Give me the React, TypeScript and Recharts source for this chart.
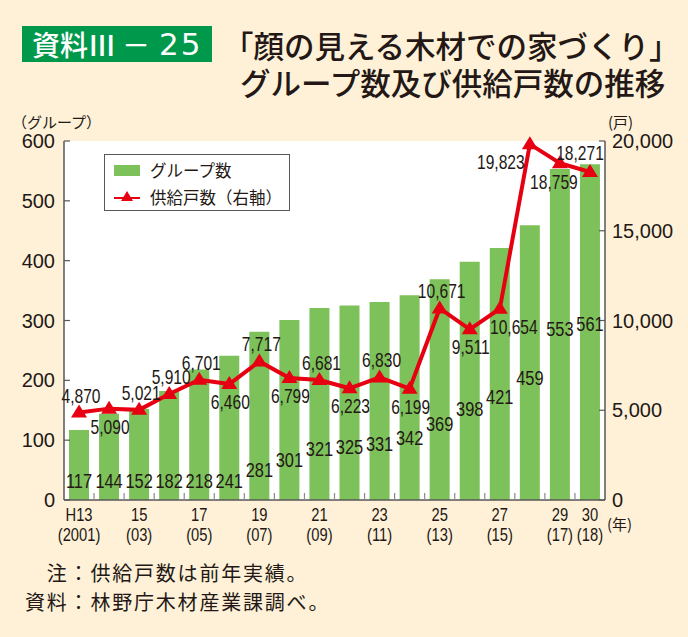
import { ComposedChart, Bar, Line, XAxis, YAxis, CartesianGrid, LabelList } from "recharts";

// H13 (2001) .. H30 (2018)
const YEARS = ["H13", "14", "15", "16", "17", "18", "19", "20", "21", "22", "23", "24", "25", "26", "27", "28", "29", "30"];
const WESTERN = ["2001", "02", "03", "04", "05", "06", "07", "08", "09", "10", "11", "12", "13", "14", "15", "16", "17", "18"];
const SHOWN_TICKS = ["H13", "15", "17", "19", "21", "23", "25", "27", "29", "30"];

const GROUPS = [117, 144, 152, 182, 218, 241, 281, 301, 321, 325, 331, 342, 369, 398, 421, 459, 553, 561];
const HOUSES = [4870, 5090, 5021, 5910, 6701, 6460, 7717, 6799, 6681, 6223, 6830, 6199, 10671, 9511, 10654, 19823, 18759, 18271];

const LEFT_TICKS = [0, 100, 200, 300, 400, 500, 600];
const RIGHT_TICKS = [0, 5000, 10000, 15000, 20000];

// where each line label sits relative to its point
const LINE_LABEL_SIDE = ["up", "down", "up", "up", "up", "down", "up", "down", "up", "down", "up", "down", "up", "down", "downRight", "left", "downLeft", "upLeft"];
const SIDE_OFFSET: Record<string, [number, number]> = {
  up: [2, -17],
  down: [1, 18],
  downRight: [14, 18],
  left: [-29, 18],
  downLeft: [-6, 19],
  upLeft: [-10, -19],
};

const data = YEARS.map((y, i) => ({ year: y, west: WESTERN[i], groups: GROUPS[i], houses: HOUSES[i] }));

const BG = "#fef1d8";
const INK = "#231815";
const AXIS = "#595757";
const GREEN = "#7dc15a";
const RED = "#e60012";
const JP = "'Noto Sans CJK JP', 'Noto Sans', sans-serif";
const NUM = "'Liberation Sans', Arial, sans-serif";

const W = 688;
const H = 637;
const PLOT_L = 64;
const PLOT_R = 605;
const BAND = (PLOT_R - PLOT_L) / YEARS.length;

const fmt = (n: number) => n.toLocaleString("en-US");

function LeftTick({ x, y, payload }: any) {
  return (
    <g>
      <line x1={PLOT_L} x2={PLOT_L + 6} y1={y} y2={y} stroke={AXIS} strokeWidth={1.2} />
      <text x={x} y={y + 7} textAnchor="end" fontSize={20} fill={INK} fontFamily={NUM}>
        {payload.value}
      </text>
    </g>
  );
}

function RightTick({ x, y, payload }: any) {
  return (
    <g>
      <line x1={PLOT_R - 6} x2={PLOT_R} y1={y} y2={y} stroke={AXIS} strokeWidth={1.2} />
      <text x={x} y={y + 7} textAnchor="start" fontSize={20} fill={INK} fontFamily={NUM}>
        {fmt(payload.value)}
      </text>
    </g>
  );
}

function BottomTick({ x, y, payload, index }: any) {
  const show = SHOWN_TICKS.includes(payload.value);
  const left = x - BAND / 2;
  return (
    <g>
      {index > 0 && <line x1={left} x2={left} y1={y - 7} y2={y} stroke="#8a8a8a" strokeWidth={1.2} />}
      {show && (
        <g transform={`translate(${x},${y})`}>
          <text transform="scale(0.82,1)" y={21} textAnchor="middle" fontSize={18} fill={INK} fontFamily={NUM}>
            {payload.value}
          </text>
          <text transform="scale(0.82,1)" y={41} textAnchor="middle" fontSize={18} fill={INK} fontFamily={NUM}>
            ({WESTERN[index]})
          </text>
        </g>
      )}
    </g>
  );
}

function BarValue({ x, y, width, height, value }: any) {
  const d = 20 + Math.max(0, value - 260) * 0.52;
  const cx = x + width / 2;
  const by = y + height - d + 8;
  return (
    <text transform={`translate(${cx},${by}) scale(0.78,1)`} textAnchor="middle" fontSize={21} fill={INK} fontFamily={NUM}>
      {value}
    </text>
  );
}

function LineValue({ x, y, value, index }: any) {
  const [dx, dy] = SIDE_OFFSET[LINE_LABEL_SIDE[index]];
  return (
    <text transform={`translate(${x + dx},${y + dy + 7}) scale(0.78,1)`} textAnchor="middle" fontSize={20} fill={INK} fontFamily={NUM}>
      {fmt(value)}
    </text>
  );
}

function Triangle({ cx, cy }: any) {
  if (cx == null || cy == null) return null;
  return <polygon points={`${cx},${cy - 8} ${cx + 8},${cy + 5} ${cx - 8},${cy + 5}`} fill={RED} />;
}

function LegendBox() {
  return (
    <div
      style={{
        position: "absolute",
        left: 104,
        top: 154,
        width: 184,
        height: 55,
        background: "#fff",
        border: `1px solid ${AXIS}`,
        fontFamily: JP,
        fontSize: 16.5,
        color: INK,
        whiteSpace: "nowrap",
      }}
    >
      <div style={{ position: "absolute", left: 9, top: 10, width: 26, height: 11, background: GREEN }} />
      <div style={{ position: "absolute", left: 45, top: 4, lineHeight: "22px" }}>グループ数</div>
      <svg style={{ position: "absolute", left: 9, top: 34 }} width={28} height={16}>
        <line x1={0} x2={26} y1={9} y2={9} stroke={RED} strokeWidth={2} />
        <polygon points="13,2 19,12 7,12" fill={RED} />
      </svg>
      <div style={{ position: "absolute", left: 45, top: 31, lineHeight: "22px" }}>供給戸数（右軸）</div>
    </div>
  );
}

const titleLine = {
  position: "absolute" as const,
  fontFamily: JP,
  fontSize: 30.5,
  fontWeight: 500,
  color: INK,
  lineHeight: "32px",
  whiteSpace: "nowrap" as const,
};

const noteLine = {
  position: "absolute" as const,
  left: 25,
  fontFamily: JP,
  fontSize: 20,
  letterSpacing: 1.8,
  color: INK,
  lineHeight: "24px",
  whiteSpace: "nowrap" as const,
};

export default function App() {
  return (
    <div style={{ position: "absolute", left: 0, top: 0, width: W, height: H, background: BG, overflow: "hidden" }}>
      {/* title */}
      <div
        style={{
          position: "absolute",
          left: 22,
          top: 26,
          width: 190,
          height: 36,
          background: "#00984a",
          color: "#fff",
          fontFamily: JP,
          fontSize: 28,
          lineHeight: "36px",
          fontWeight: 500,
          whiteSpace: "nowrap",
        }}
      >
        <span style={{ position: "absolute", left: 10 }}>資料Ⅲ</span>
        <span style={{ position: "absolute", left: 100 }}>－</span>
        <span style={{ position: "absolute", left: 137, fontFamily: "'DejaVu Sans', sans-serif", fontSize: 31, letterSpacing: 2 }}>
          25
        </span>
      </div>
      <div style={{ ...titleLine, left: 223, top: 29 }}>「顔の見える木材での家づくり」</div>
      <div style={{ ...titleLine, left: 240, top: 66 }}>グループ数及び供給戸数の推移</div>

      {/* axis units */}
      <div style={{ position: "absolute", left: 12, top: 111, fontFamily: JP, fontSize: 15, color: INK, whiteSpace: "nowrap" }}>
        （グループ）
      </div>
      <div style={{ position: "absolute", left: 608, top: 111, fontFamily: JP, fontSize: 15, color: INK, whiteSpace: "nowrap" }}>
        (戸)
      </div>
      <div style={{ position: "absolute", left: 607, top: 513, fontFamily: JP, fontSize: 15, color: INK, whiteSpace: "nowrap" }}>
        (年)
      </div>

      <div style={{ position: "absolute", left: 0, top: 0 }}>
        <ComposedChart width={W} height={H} data={data} margin={{ top: 141, right: 0, bottom: 77, left: 0 }} barSize={20}>
          <CartesianGrid fill="#fff" stroke="none" horizontal={false} vertical={false} />
          <XAxis
            dataKey="year"
            interval={0}
            height={60}
            tickSize={0}
            tickMargin={0}
            tickLine={false}
            axisLine={{ stroke: AXIS, strokeWidth: 1.5 }}
            tick={<BottomTick />}
          />
          <YAxis
            yAxisId="left"
            width={64}
            domain={[0, 600]}
            ticks={LEFT_TICKS}
            tickSize={0}
            tickMargin={9}
            tickLine={false}
            axisLine={{ stroke: AXIS, strokeWidth: 1.5 }}
            tick={<LeftTick />}
          />
          <YAxis
            yAxisId="right"
            orientation="right"
            width={83}
            domain={[0, 20000]}
            ticks={RIGHT_TICKS}
            tickSize={0}
            tickMargin={7}
            tickLine={false}
            axisLine={{ stroke: AXIS, strokeWidth: 1.5 }}
            tick={<RightTick />}
          />
          <Bar yAxisId="left" dataKey="groups" fill={GREEN} isAnimationActive={false}>
            <LabelList dataKey="groups" content={<BarValue />} />
          </Bar>
          <Line
            yAxisId="right"
            dataKey="houses"
            stroke={RED}
            strokeWidth={4}
            dot={<Triangle />}
            activeDot={false}
            isAnimationActive={false}
          >
            <LabelList dataKey="houses" content={<LineValue />} />
          </Line>
        </ComposedChart>
      </div>

      <LegendBox />

      {/* notes */}
      <div style={{ ...noteLine, top: 561 }}>　注：供給戸数は前年実績。</div>
      <div style={{ ...noteLine, top: 590 }}>資料：林野庁木材産業課調べ。</div>
    </div>
  );
}
